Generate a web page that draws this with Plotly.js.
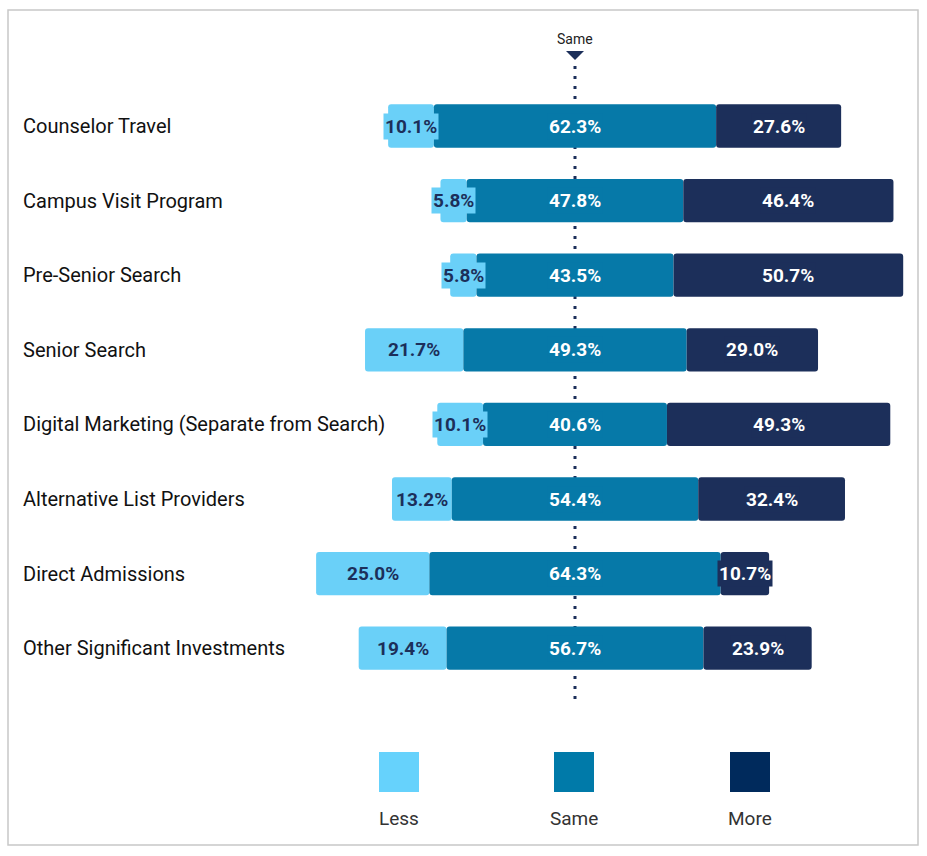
<!DOCTYPE html>
<html>
<head>
<meta charset="utf-8">
<script src="https://cdn.plot.ly/plotly-3.0.1.min.js"></script>
<style>
  html, body { margin: 0; padding: 0; background: #fff; }
  #chart { width: 927px; height: 856px; }
</style>
</head>
<body>
<div id="chart"></div>
<script>
// survey data: share of respondents spending less / same / more
let categories = [
  "Counselor Travel",
  "Campus Visit Program",
  "Pre-Senior Search",
  "Senior Search",
  "Digital Marketing (Separate from Search)",
  "Alternative List Providers",
  "Direct Admissions",
  "Other Significant Investments"
]
let less = [10.1, 5.8, 5.8, 21.7, 10.1, 13.2, 25.0, 19.4]
let same = [62.3, 47.8, 43.5, 49.3, 40.6, 54.4, 64.3, 56.7]
let more = [27.6, 46.4, 50.7, 29.0, 49.3, 32.4, 10.7, 23.9]
let seriesNames = ["Less", "Same", "More"]

let barColors = ["#6ad0f8", "#0679a8", "#1c2f5a"]
let legendColors = ["#66d2fc", "#007aa9", "#002a5c"]
let textColors = ["#1c2f5a", "#ffffff", "#ffffff"]

const W = 927, H = 856
// pixel helpers for layout decorations only (plot area covers the whole page)
function px(x){ return x / W }
function py(y){ return 1 - y / H }

function plotChart(){
  // diverging: "Same" segment is centred on zero
  let lessBase = less.map((v, i) => -same[i] / 2 - v)
  let sameBase = same.map(v => -v / 2)
  let moreBase = same.map(v => v / 2)
  let bases = [lessBase, sameBase, moreBase]
  let values = [less, same, more]

  let data = values.map((vals, k) => ({
    type: "bar",
    orientation: "h",
    name: seriesNames[k],
    y: categories,
    x: vals,
    base: bases[k],
    width: 0.58,
    marker: {color: barColors[k], line: {width: 0}, cornerradius: 3},
    hoverinfo: "skip",
    showlegend: false
  }))

  let annotations = []
  // value labels with a coloured backing box
  values.forEach((vals, k) => {
    vals.forEach((v, i) => {
      annotations.push({
        x: bases[k][i] + v / 2, y: categories[i],
        xref: "x", yref: "y",
        text: "<b>" + v.toFixed(1) + "%</b>",
        showarrow: false,
        font: {family: "Roboto, sans-serif", size: 19, color: textColors[k]},
        bgcolor: barColors[k],
        borderpad: 1
      })
    })
  })
  // category labels on the left
  categories.forEach(c => {
    annotations.push({
      x: px(21), y: c, xref: "paper", yref: "y",
      xanchor: "left", yanchor: "middle", text: c, showarrow: false,
      font: {family: "Roboto, sans-serif", size: 20, color: "#111"}
    })
  })
  // top marker label
  annotations.push({
    x: 0, y: py(39), xref: "x", yref: "paper",
    xanchor: "center", yanchor: "middle",
    text: "Same", showarrow: false,
    font: {family: "Roboto, sans-serif", size: 14, color: "#222"}
  })

  let shapes = [
    // outer frame
    {type: "rect", xref: "paper", yref: "paper",
     x0: px(8), x1: px(918), y0: py(10), y1: py(845),
     line: {color: "#c8c8c8", width: 1.5}, layer: "below"},
    // dotted centre line
    {type: "line", xref: "x", yref: "paper",
     x0: 0, x1: 0, y0: py(66), y1: py(702),
     line: {color: "#1c2f5a", width: 3, dash: "3px,7px"}, layer: "below"},
    // triangle marker
    {type: "path", xref: "paper", yref: "paper",
     path: "M " + px(566) + "," + py(51) + " L " + px(584) + "," + py(51) +
           " L " + px(575) + "," + py(60) + " Z",
     fillcolor: "#1c2f5a", line: {width: 0}}
  ]

  // custom legend: squares with labels underneath
  let legendX = [399, 574, 750]
  seriesNames.forEach((n, k) => {
    shapes.push({type: "rect", xref: "paper", yref: "paper",
      x0: px(legendX[k] - 20), x1: px(legendX[k] + 20),
      y0: py(752), y1: py(792),
      fillcolor: legendColors[k], line: {width: 0}})
    annotations.push({x: px(legendX[k]), y: py(818), xref: "paper", yref: "paper",
      xanchor: "center", yanchor: "middle",
      text: n, showarrow: false,
      font: {family: "Roboto, sans-serif", size: 19, color: "#333"}})
  })

  let pxPerPct = 4.53
  let layout = {
    width: W, height: H,
    margin: {l: 0, r: 0, t: 0, b: 0},
    paper_bgcolor: "#fff", plot_bgcolor: "#fff",
    barmode: "overlay",
    xaxis: {range: [-575 / pxPerPct, (W - 575) / pxPerPct], visible: false, fixedrange: true},
    yaxis: {type: "category", range: [(H - 126) / 74.6, -126 / 74.6],
            visible: false, fixedrange: true},
    annotations: annotations,
    shapes: shapes,
    showlegend: false
  }
  Plotly.newPlot("chart", data, layout, {displayModeBar: false, staticPlot: true})
}

plotChart()
</script>
</body>
</html>
